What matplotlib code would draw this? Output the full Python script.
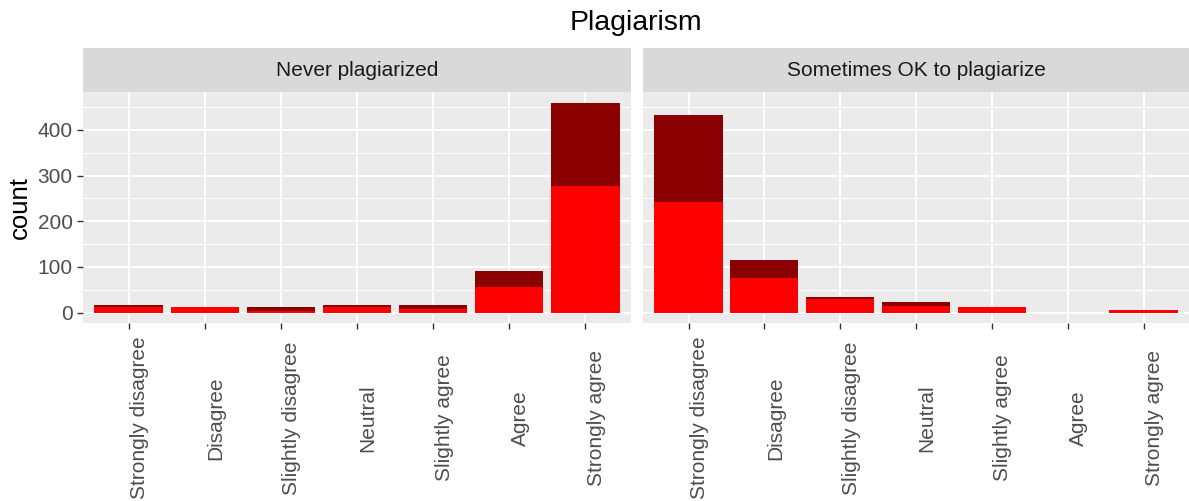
import matplotlib
matplotlib.use("Agg")
import matplotlib.pyplot as plt
import matplotlib.transforms as mtransforms
import numpy as np

plt.rcParams["font.family"] = ["Liberation Sans", "DejaVu Sans"]

categories = ["Strongly disagree", "Disagree", "Slightly disagree", "Neutral",
              "Slightly agree", "Agree", "Strongly agree"]
panels = ["Never plagiarized", "Sometimes OK to plagiarize"]

# lower (red) and upper (dark red) parts of each stacked bar
never_red = [11, 12, 3, 11, 7, 55, 278]
never_dark = [5, 0, 9, 5, 9, 35, 181]
sometimes_red = [241, 75, 29, 14, 12, 0, 5]
sometimes_dark = [192, 39, 4, 9, 0, 0, 0]

red = "#FF0000"
dark = "#8B0000"
bg = "#EBEBEB"
strip_bg = "#D9D9D9"
grey = "#4D4D4D"

W, H = 1189, 501
fig = plt.figure(figsize=(W / 100, H / 100), dpi=100)

def box(x0, y0, x1, y1):
    return [x0 / W, 1 - y1 / H, (x1 - x0) / W, (y1 - y0) / H]

panel_x = [(83, 631), (643, 1189)]
ptop, pbot = 92, 323
stop = 48
label_mid = 418  # vertical centre of the rotated category labels, in pixels

ymax = 460
x = np.arange(len(categories))

for i, (name, lo, hi) in enumerate([(panels[0], never_red, never_dark),
                                    (panels[1], sometimes_red, sometimes_dark)]):
    x0, x1 = panel_x[i]
    ax = fig.add_axes(box(x0, ptop, x1, pbot))
    ax.set_facecolor(bg)
    ax.bar(x, lo, width=0.9, color=red, zorder=3)
    ax.bar(x, hi, bottom=lo, width=0.9, color=dark, zorder=3)
    ax.set_xlim(-0.6, len(categories) - 0.4)
    ax.set_ylim(-0.05 * ymax, 1.05 * ymax)
    ax.set_yticks([0, 100, 200, 300, 400])
    ax.set_yticks([50, 150, 250, 350, 450], minor=True)
    ax.set_xticks(x)
    ax.set_xticklabels([])
    ax.grid(True, which="major", color="white", linewidth=1.4, zorder=0)
    ax.grid(True, which="minor", axis="y", color="white", linewidth=0.7, zorder=0)
    ax.tick_params(which="both", length=4.5, color="#333333", width=1, pad=3)
    ax.tick_params(which="minor", length=0)
    for s in ax.spines.values():
        s.set_visible(False)
    if i == 0:
        ax.set_yticklabels(["0", "100", "200", "300", "400"], fontsize=15, color=grey)
        ax.set_ylabel("count", fontsize=18.5, labelpad=4)
    else:
        ax.tick_params(axis="y", length=0, labelleft=False)

    # rotated category labels, centred like ggplot's angle = 90
    trans = mtransforms.blended_transform_factory(ax.transData, fig.transFigure)
    trans = trans + mtransforms.ScaledTranslation(11 / 100, 0, fig.dpi_scale_trans)
    for xi, cat in zip(x, categories):
        ax.text(xi, 1 - label_mid / H, cat, rotation=90, ha="center", va="center",
                fontsize=15, color=grey, transform=trans, clip_on=False)

    sax = fig.add_axes(box(x0, stop, x1, ptop))
    sax.set_facecolor(strip_bg)
    sax.set_xticks([])
    sax.set_yticks([])
    for s in sax.spines.values():
        s.set_visible(False)
    sax.text(0.5, 0.5, name, ha="center", va="center", fontsize=15,
             color="#1A1A1A", transform=sax.transAxes)

fig.text((83 + 1189) / 2 / W, 1 - 23 / H, "Plagiarism", ha="center", va="center",
         fontsize=20.5)

fig.savefig("out.png", dpi=100)
